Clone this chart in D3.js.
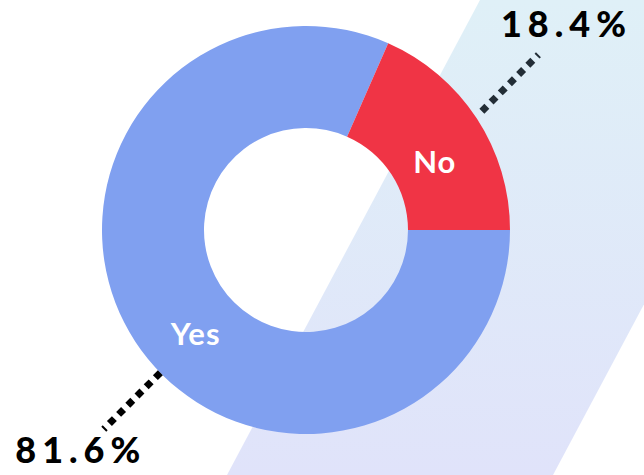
<!DOCTYPE html>
<html><head><meta charset="utf-8">
<script src="https://cdn.jsdelivr.net/npm/d3@7"></script>
<style>html,body{margin:0;padding:0;background:#fff;overflow:hidden}</style>
</head><body>
<svg id="c" width="644" height="475"></svg>
<script>
const categories = ["Yes", "No"];
const values = [81.6, 18.4];
const valueLabels = ["81.6%", "18.4%"];
const colors = ["#80a0f0", "#f03445"];

const W = 644, H = 475, cx = 306, cy = 230, rOuter = 204, rInner = 102;
const svg = d3.select("#c");

// background diagonal band with gradient
const defs = svg.append("defs");
const g = defs.append("linearGradient").attr("id","band").attr("x1",0).attr("y1",0).attr("x2",0).attr("y2",1);
g.append("stop").attr("offset","0%").attr("stop-color","#dff0f7");
g.append("stop").attr("offset","100%").attr("stop-color","#e0e3fa");
svg.append("path")
  .attr("d", `M480,0 L806,0 L553,475 L227,475 Z`)
  .attr("fill","url(#band)");

const data = categories.map((c,i)=>({cat:c, value:values[i], label:valueLabels[i], color:colors[i]}));
const pie = d3.pie().value(d=>d.value).sort(null).startAngle(Math.PI/2).endAngle(Math.PI/2 + 2*Math.PI);
const arcs = pie(data);
const arc = d3.arc().innerRadius(rInner).outerRadius(rOuter);

const gc = svg.append("g").attr("transform",`translate(${cx},${cy})`);
gc.selectAll("path.slice").data(arcs).enter().append("path")
  .attr("class","slice").attr("d",arc).attr("fill",d=>d.data.color);

// label angle: No at centroid, Yes at 225deg
const labelAngle = d => d.data.cat === "Yes" ? (225*Math.PI/180) : (d.startAngle+d.endAngle)/2 - 2*Math.PI;
const rl = (rInner+rOuter)/2 - 4;
gc.selectAll("text.cat").data(arcs).enter().append("text")
  .attr("class","cat")
  .attr("x", d=>Math.sin(labelAngle(d))*rl + (d.data.cat==="No"?4:-5))
  .attr("y", d=>-Math.cos(labelAngle(d))*rl + (d.data.cat==="No"?12:-2))
  .attr("text-anchor","middle").attr("dominant-baseline","central")
  .attr("fill","#fff").attr("font-family","Lato, sans-serif").attr("font-weight","bold")
  .attr("font-size",31).attr("letter-spacing",1).text(d=>d.data.cat);

// leader lines and percentage labels
const leaderLen = 80;
arcs.forEach(d=>{
  const a = labelAngle(d);
  const isNo = d.data.cat==="No";
  const rs = isNo ? rOuter+6 : rOuter+2;
  const x0 = Math.sin(a)*rs, y0 = -Math.cos(a)*rs + (isNo?-4:-3);
  const sx = Math.sign(Math.sin(a)), sy = Math.sign(-Math.cos(a));
  const x1 = x0 + sx*leaderLen/Math.SQRT2, y1 = y0 + sy*leaderLen/Math.SQRT2;
  gc.append("line").attr("x1",x0).attr("y1",y0).attr("x2",x1).attr("y2",y1)
    .attr("stroke", isNo ? "#222d36" : "#000")
    .attr("stroke-width",7).attr("stroke-dasharray","7,6");
  gc.append("text")
    .attr("x", isNo ? x1+28 : x1-23)
    .attr("y", isNo ? y1-18 : y1+34)
    .attr("text-anchor","middle")
    .attr("fill","#000").attr("font-family","Lato, sans-serif").attr("font-weight","900")
    .attr("font-size",36).attr("letter-spacing",6).text(d.data.label);
});
</script>
</body></html>
